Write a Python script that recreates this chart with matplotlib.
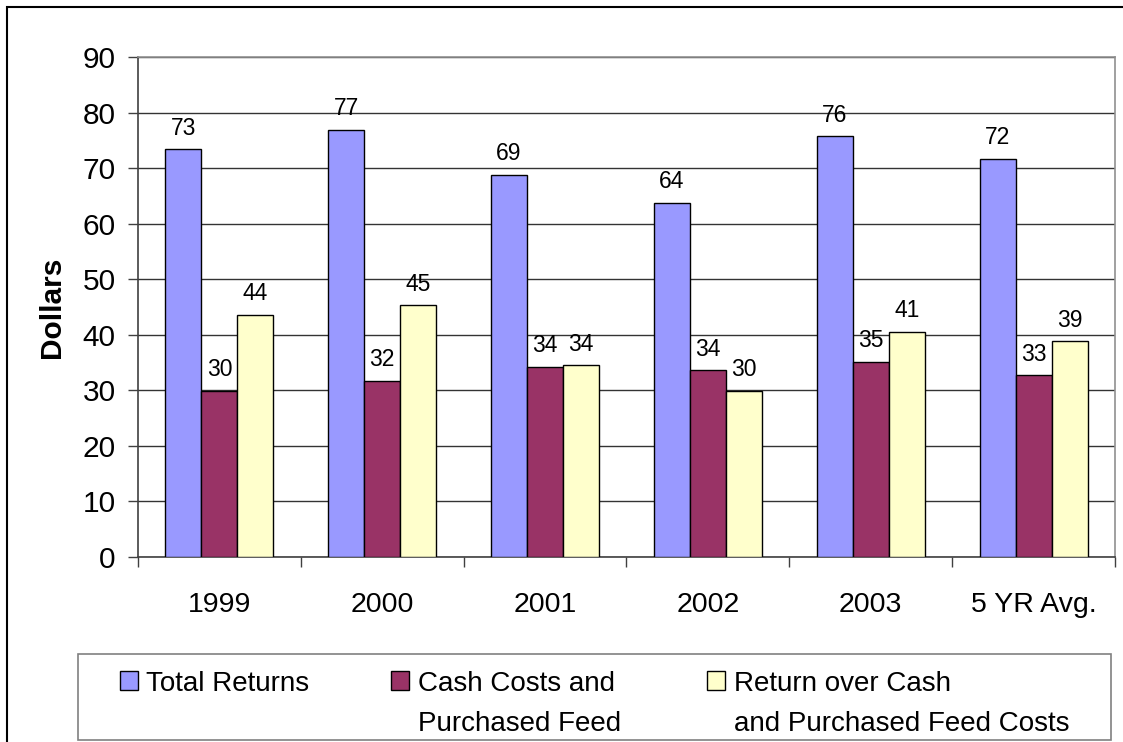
import matplotlib
matplotlib.use("Agg")
import matplotlib.pyplot as plt
from matplotlib.patches import Rectangle
import numpy as np

plt.rcParams['font.family'] = ['Liberation Sans', 'DejaVu Sans']

categories = ["1999", "2000", "2001", "2002", "2003", "5 YR Avg."]
series_names = ["Total Returns", "Cash Costs and\nPurchased Feed",
                "Return over Cash\nand Purchased Feed Costs"]
total_returns = [73.4, 76.9, 68.8, 63.7, 75.7, 71.7]
cash_costs = [29.9, 31.7, 34.2, 33.6, 35.1, 32.7]
return_over = [43.6, 45.3, 34.5, 29.9, 40.5, 38.8]
label_total = [73, 77, 69, 64, 76, 72]
label_cash = [30, 32, 34, 34, 35, 33]
label_return = [44, 45, 34, 30, 41, 39]
yticks = [0, 10, 20, 30, 40, 50, 60, 70, 80, 90]

colors = ["#9999FF", "#993366", "#FFFFCC"]

W, H = 1123, 742
fig = plt.figure(figsize=(W / 100, H / 100), dpi=100)

def fx(px):
    return px / W

def fy(py):
    return 1 - py / H

ax = fig.add_axes([fx(138), fy(557), fx(1115) - fx(138), fy(57) - fy(557)])

x = np.arange(len(categories))
bw = 0.2211
series = [total_returns, cash_costs, return_over]
labels = [label_total, label_cash, label_return]
for i, (vals, labs, c) in enumerate(zip(series, labels, colors)):
    pos = x + (i - 1) * bw
    ax.bar(pos, vals, width=bw, color=c, edgecolor="black", linewidth=1.0, zorder=3)
    for p, v, l in zip(pos, vals, labs):
        ax.annotate(str(l), (p, v), xytext=(0, 7), textcoords="offset points",
                    ha="center", va="bottom", fontsize=16.5, zorder=4)

ax.set_xlim(-0.5, len(categories) - 0.5)
ax.set_ylim(0, 90)
ax.set_yticks(yticks)
ax.tick_params(axis="y", labelsize=21.5, length=7, width=1, pad=9, color="#404040")
ax.set_xticks(x)
ax.set_xticklabels(categories)
ax.tick_params(axis="x", which="major", labelsize=20.5, length=0, pad=25)
ax.set_xticks(np.arange(len(categories) + 1) - 0.5, minor=True)
ax.tick_params(axis="x", which="minor", length=7, width=1, color="#404040")

ax.yaxis.grid(True, color="#333333", linewidth=1, zorder=0)
ax.set_axisbelow(True)
for s in ["left", "bottom"]:
    ax.spines[s].set_color("#404040")
    ax.spines[s].set_linewidth(1.2)
for s in ["top", "right"]:
    ax.spines[s].set_color("#909090")
    ax.spines[s].set_linewidth(1.2)

ax.set_ylabel("Dollars", fontsize=21.5, fontweight="bold")
ax.yaxis.set_label_coords((66 - 138) / 977, 0.5)

# figure border (extends past right/bottom edges)
fig.patches.append(Rectangle((fx(7), fy(760)), fx(1140) - fx(7), fy(7) - fy(760),
                             transform=fig.transFigure, fill=False,
                             edgecolor="black", linewidth=1.5))

# legend box
fig.patches.append(Rectangle((fx(78), fy(740)), fx(1111) - fx(78), fy(654) - fy(740),
                             transform=fig.transFigure, fill=False,
                             edgecolor="#808080", linewidth=1.2))
marker_x = [120, 391, 707]
text_x = [146, 418, 734]
for mx, tx, c, name in zip(marker_x, text_x, colors, series_names):
    fig.patches.append(Rectangle((fx(mx), fy(690)), fx(18), fy(671) - fy(690),
                                 transform=fig.transFigure, facecolor=c,
                                 edgecolor="black", linewidth=1.0))
    fig.text(fx(tx), fy(671), name, fontsize=20, ha="left", va="top",
             linespacing=1.68)

fig.savefig("out.png", dpi=100)
